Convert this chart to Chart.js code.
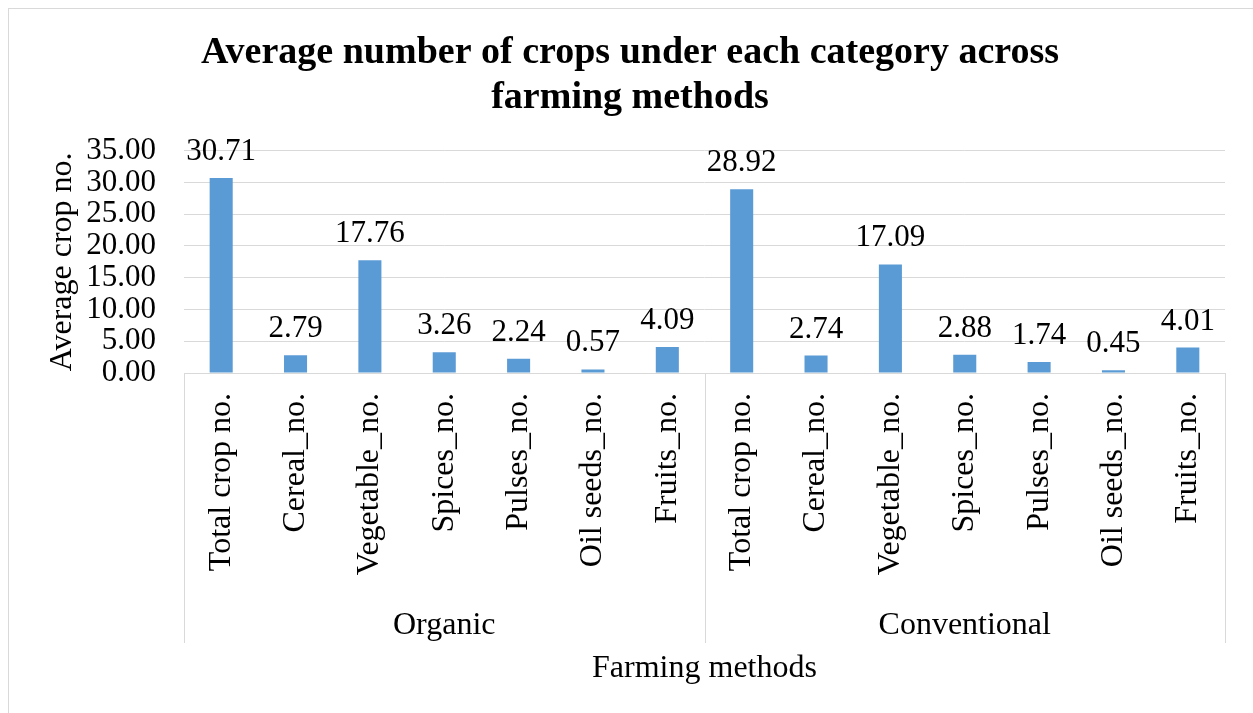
<!DOCTYPE html>
<html>
<head>
<meta charset="utf-8">
<script src="https://cdn.jsdelivr.net/npm/chart.js@4.4.1/dist/chart.umd.min.js"></script>
<style>
  html, body { margin: 0; padding: 0; background: #ffffff; }
  #wrap { width: 1253px; height: 713px; position: relative; }
</style>
</head>
<body>
<div id="wrap"><canvas id="c" width="1253" height="713"></canvas></div>
<script>
const chartTitle = ["Average number of crops under each category across", "farming methods"];
const groups = ["Organic", "Conventional"];
const subCategories = ["Total crop no.", "Cereal_no.", "Vegetable_no.", "Spices_no.", "Pulses_no.", "Oil seeds_no.", "Fruits_no."];
const organicValues = [30.71, 2.79, 17.76, 3.26, 2.24, 0.57, 4.09];
const conventionalValues = [28.92, 2.74, 17.09, 2.88, 1.74, 0.45, 4.01];
const yTicksMin = 0, yTicksMax = 35, yTicksStep = 5;
const yAxisTitle = "Average crop no.";
const xAxisTitle = "Farming methods";

const labels = subCategories.concat(subCategories);
const values = organicValues.concat(conventionalValues);
const FONT = "'Liberation Serif', 'Times New Roman', serif";

const decorPlugin = {
  id: 'decor',
  beforeDraw(chart) {
    const ctx = chart.ctx;
    ctx.save();
    ctx.strokeStyle = '#D9D9D9';
    ctx.lineWidth = 1;
    ctx.strokeRect(8.5, 8.5, chart.width + 10, chart.height + 10);
    ctx.restore();
  },
  afterDraw(chart) {
    const ctx = chart.ctx;
    const x = chart.scales.x;
    const area = chart.chartArea;
    const n = subCategories.length;
    const bottomY = 643;
    ctx.save();
    ctx.strokeStyle = '#D9D9D9';
    ctx.lineWidth = 1;
    const bounds = [];
    for (let g = 0; g <= groups.length; g++) {
      const idx = g * n - 0.5;
      const px = x.getPixelForValue(idx);
      bounds.push(px);
      const xx = Math.round(px) + 0.5;
      ctx.beginPath();
      ctx.moveTo(xx, area.bottom);
      ctx.lineTo(xx, bottomY);
      ctx.stroke();
    }
    ctx.fillStyle = '#000000';
    ctx.font = "32px " + FONT;
    ctx.textAlign = 'center';
    ctx.textBaseline = 'middle';
    for (let g = 0; g < groups.length; g++) {
      ctx.fillText(groups[g], (bounds[g] + bounds[g + 1]) / 2, 626);
    }
    // data labels
    const meta = chart.getDatasetMeta(0);
    ctx.font = "31px " + FONT;
    ctx.textBaseline = 'alphabetic';
    meta.data.forEach((bar, i) => {
      ctx.fillText(values[i].toFixed(2), bar.x, bar.y - 18);
    });
    ctx.restore();
  }
};

new Chart(document.getElementById('c'), {
  type: 'bar',
  data: {
    labels: labels,
    datasets: [{
      data: values,
      backgroundColor: '#5B9BD5',
      borderWidth: 0,
      categoryPercentage: 1.0,
      barPercentage: 0.31
    }]
  },
  options: {
    responsive: false,
    animation: false,
    devicePixelRatio: 1,
    layout: { padding: { left: 35, right: 28, top: 0, bottom: 0 } },
    plugins: {
      legend: { display: false },
      tooltip: { enabled: false },
      title: {
        display: true,
        text: chartTitle,
        color: '#000000',
        font: { family: FONT, size: 38, weight: 'bold', lineHeight: 1.18 },
        padding: { top: 31, bottom: 30 }
      }
    },
    scales: {
      x: {
        grid: { display: false, drawTicks: false },
        border: { display: true, color: '#D9D9D9', width: 1 },
        ticks: {
          color: '#000000',
          font: { family: FONT, size: 32 },
          minRotation: 90,
          maxRotation: 90,
          autoSkip: false,
          padding: 20
        },
        title: {
          display: true,
          text: xAxisTitle,
          color: '#000000',
          font: { family: FONT, size: 32, lineHeight: 1.2 },
          padding: { top: 0, bottom: 25 }
        },
        afterFit(scale) { scale.height = 713 - 373; }
      },
      y: {
        min: yTicksMin,
        max: yTicksMax,
        grid: { color: '#D9D9D9', drawTicks: false },
        border: { display: false },
        ticks: {
          stepSize: yTicksStep,
          autoSkip: false,
          color: '#000000',
          font: { family: FONT, size: 31, lineHeight: 1.0 },
          padding: 28,
          callback: (v) => Number(v).toFixed(2)
        },
        title: {
          display: true,
          text: yAxisTitle,
          color: '#000000',
          font: { family: FONT, size: 32, lineHeight: 1.2 },
          padding: { top: 8, bottom: 0 }
        },
        afterFit(scale) { scale.width = 184 - 35; }
      }
    }
  },
  plugins: [decorPlugin]
});
</script>
</body>
</html>
